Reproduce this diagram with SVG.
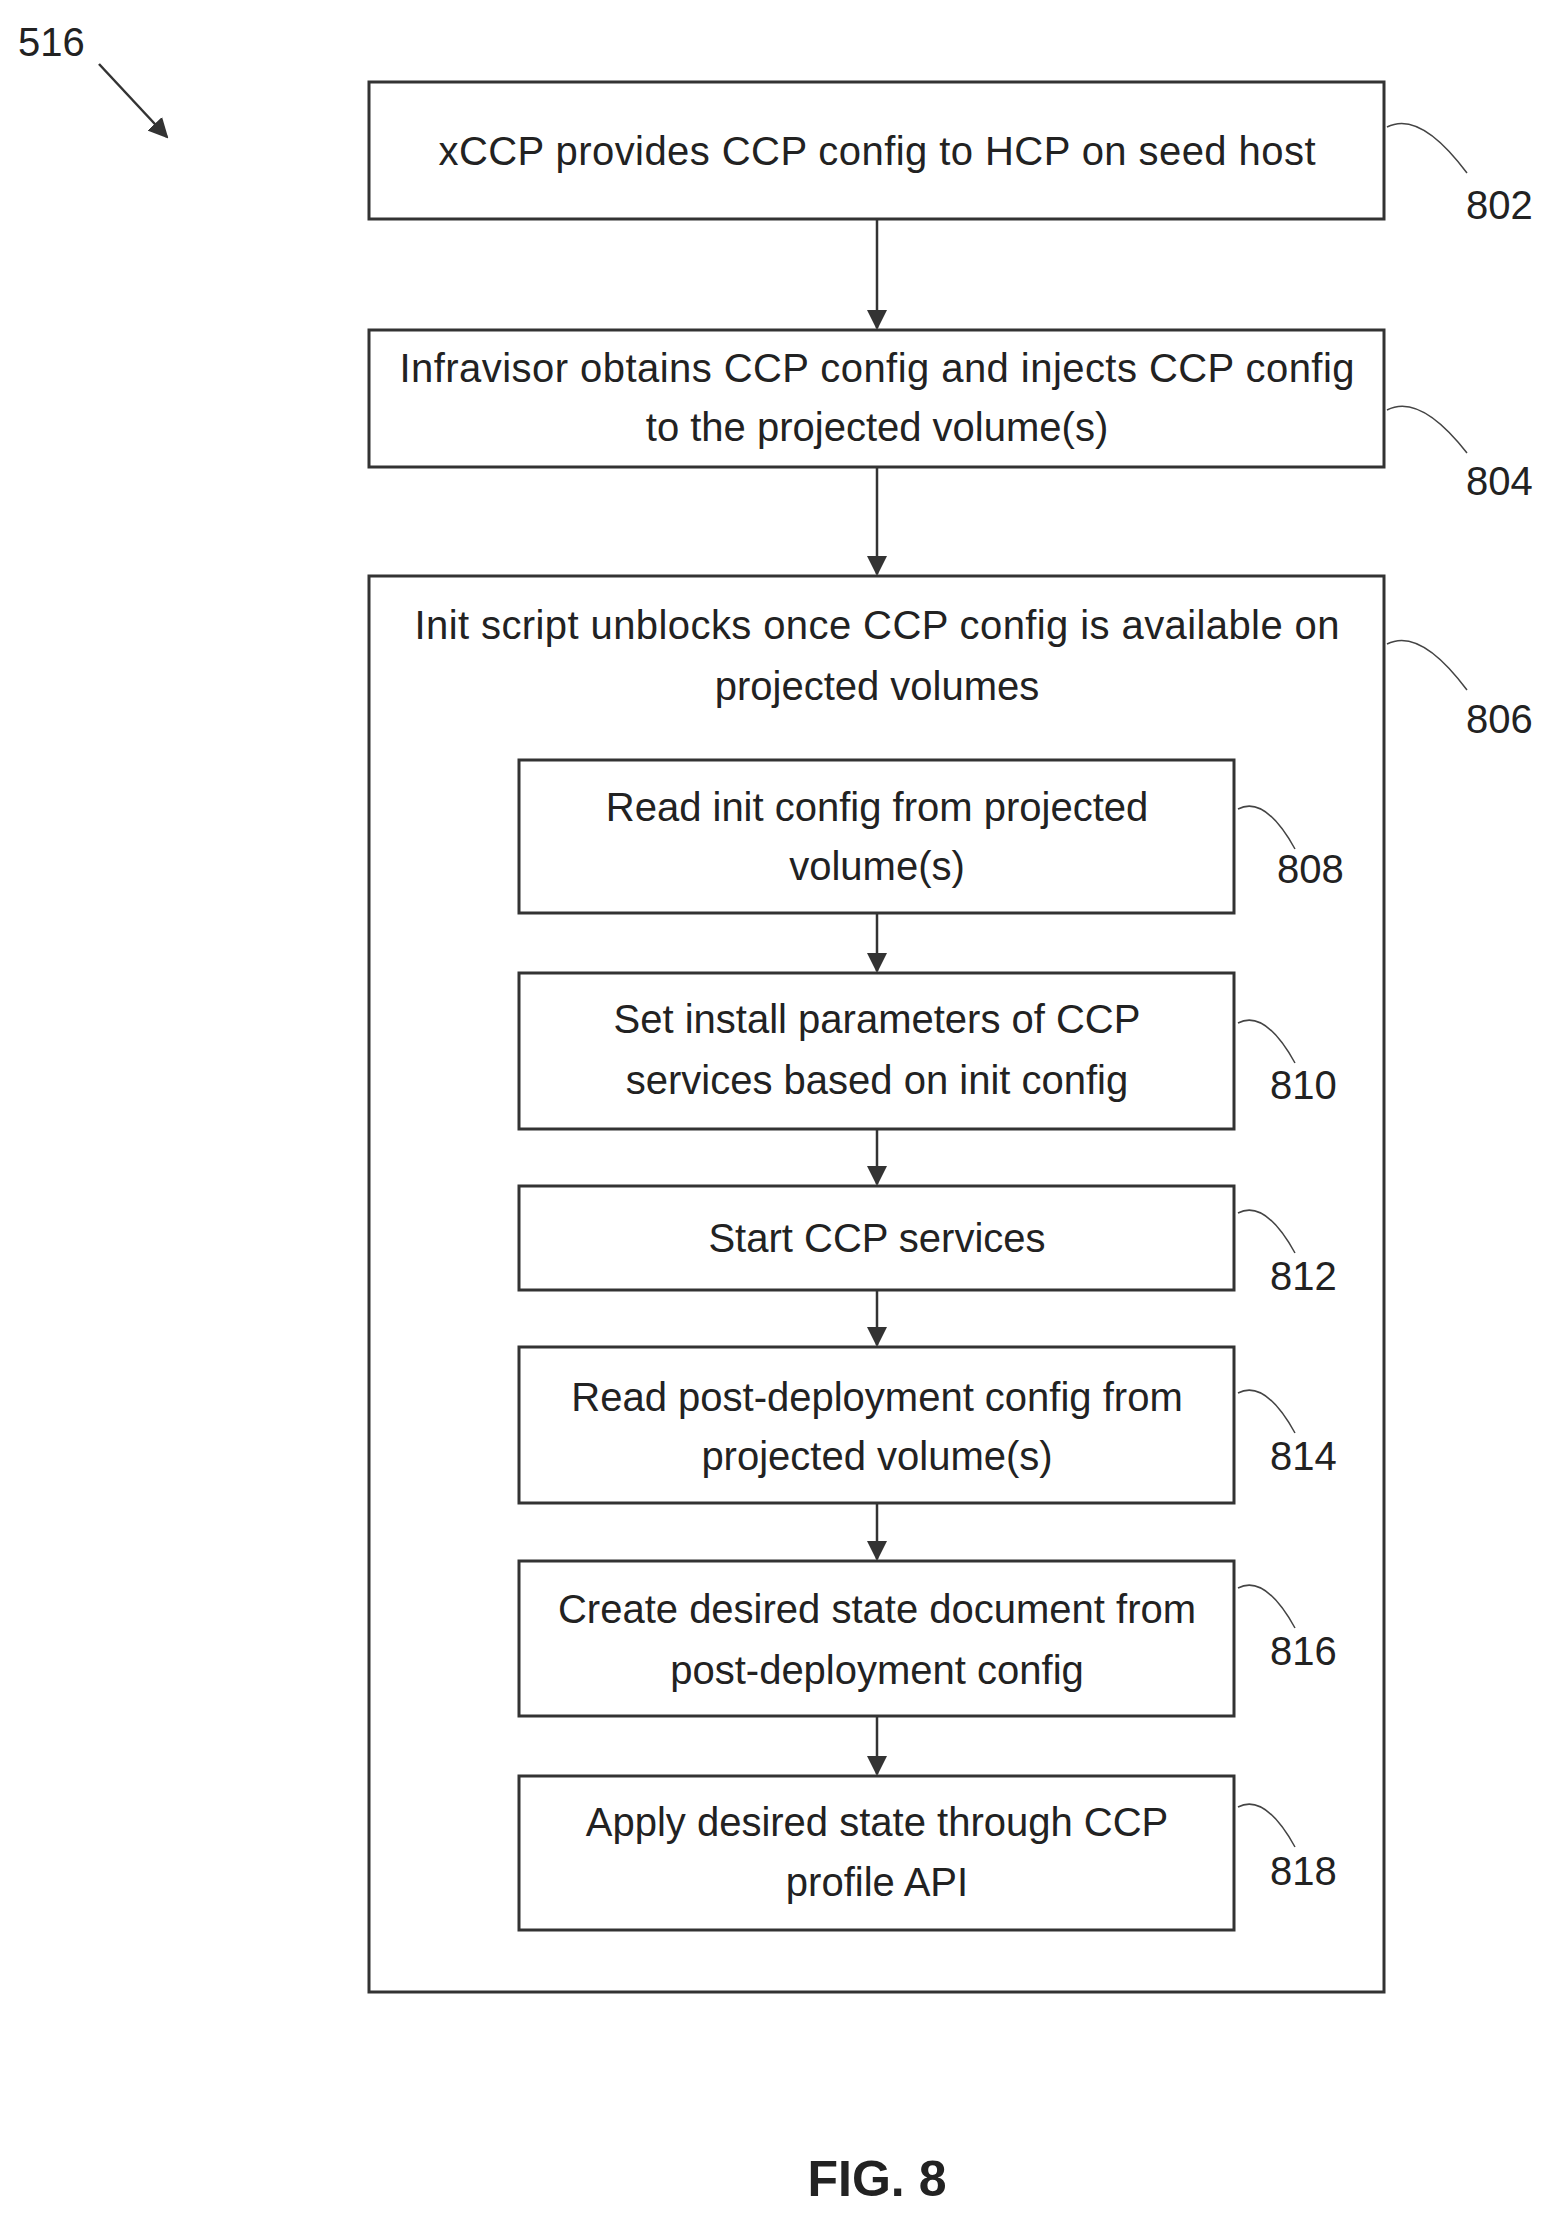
<svg xmlns="http://www.w3.org/2000/svg" width="1556" height="2225" viewBox="0 0 1556 2225">
<style>
text{font-family:"Liberation Sans",Arial,sans-serif;fill:#222;}
.t{font-size:40px;text-anchor:middle;dominant-baseline:central;}
.n{font-size:40px;dominant-baseline:central;}
.b{fill:#fff;stroke:#333;stroke-width:3;}
.c{fill:none;stroke:#333;stroke-width:2.5;}
.l{fill:none;stroke:#444;stroke-width:1.5;}
</style>
<defs><marker id="a" viewBox="0 0 10 10" refX="9" refY="5" markerWidth="8" markerHeight="8" orient="auto"><path d="M0,0L10,5L0,10z" fill="#333"/></marker></defs>
<rect width="1556" height="2225" fill="#fff"/>
<text class="n" x="18" y="42">516</text>
<g id="n802"><rect class="b" x="369" y="82" width="1015" height="137"/><text class="t" x="877" y="151" textLength="877">xCCP provides CCP config to HCP on seed host</text><text class="n" x="1466" y="205">802</text></g>
<g id="n804"><rect class="b" x="369" y="330" width="1015" height="137"/><text class="t" x="877" y="368" textLength="955">Infravisor obtains CCP config and injects CCP config</text><text class="t" x="877" y="427">to the projected volume(s)</text><text class="n" x="1466" y="481">804</text></g>
<g id="n806"><rect class="b" x="369" y="576" width="1015" height="1416"/><text class="t" x="877" y="625" textLength="925">Init script unblocks once CCP config is available on</text><text class="t" x="877" y="686">projected volumes</text><text class="n" x="1466" y="719">806</text></g>
<g id="n808"><rect class="b" x="519" y="760" width="715" height="153"/><text class="t" x="877" y="807">Read init config from projected</text><text class="t" x="877" y="866">volume(s)</text><text class="n" x="1277" y="869">808</text></g>
<g id="n810"><rect class="b" x="519" y="973" width="715" height="156"/><text class="t" x="877" y="1019">Set install parameters of CCP</text><text class="t" x="877" y="1080">services based on init config</text><text class="n" x="1270" y="1085">810</text></g>
<g id="n812"><rect class="b" x="519" y="1186" width="715" height="104"/><text class="t" x="877" y="1238">Start CCP services</text><text class="n" x="1270" y="1276">812</text></g>
<g id="n814"><rect class="b" x="519" y="1347" width="715" height="156"/><text class="t" x="877" y="1397">Read post-deployment config from</text><text class="t" x="877" y="1456">projected volume(s)</text><text class="n" x="1270" y="1456">814</text></g>
<g id="n816"><rect class="b" x="519" y="1561" width="715" height="155"/><text class="t" x="877" y="1609">Create desired state document from</text><text class="t" x="877" y="1670">post-deployment config</text><text class="n" x="1270" y="1651">816</text></g>
<g id="n818"><rect class="b" x="519" y="1776" width="715" height="154"/><text class="t" x="877" y="1822">Apply desired state through CCP</text><text class="t" x="877" y="1882">profile API</text><text class="n" x="1270" y="1871">818</text></g>
<g id="connectors">
<line class="c" x1="99" y1="64" x2="167" y2="137" marker-end="url(#a)"/>
<line class="c" x1="877" y1="219" x2="877" y2="328" marker-end="url(#a)"/>
<line class="c" x1="877" y1="467" x2="877" y2="574" marker-end="url(#a)"/>
<line class="c" x1="877" y1="913" x2="877" y2="971" marker-end="url(#a)"/>
<line class="c" x1="877" y1="1129" x2="877" y2="1184" marker-end="url(#a)"/>
<line class="c" x1="877" y1="1290" x2="877" y2="1345" marker-end="url(#a)"/>
<line class="c" x1="877" y1="1503" x2="877" y2="1559" marker-end="url(#a)"/>
<line class="c" x1="877" y1="1716" x2="877" y2="1774" marker-end="url(#a)"/>
<path class="l" d="M1387,127 Q1420,110 1467,173"/>
<path class="l" d="M1387,410 Q1420,393 1467,453"/>
<path class="l" d="M1387,644 Q1420,627 1467,690"/>
<path class="l" d="M1238,809 Q1265,795 1295,849"/>
<path class="l" d="M1238,1023 Q1265,1009 1295,1063"/>
<path class="l" d="M1238,1213 Q1265,1199 1295,1253"/>
<path class="l" d="M1238,1393 Q1265,1379 1295,1433"/>
<path class="l" d="M1238,1588 Q1265,1574 1295,1628"/>
<path class="l" d="M1238,1807 Q1265,1793 1295,1847"/>
</g>
<text x="877" y="2179" style="font-size:50px;font-weight:bold;text-anchor:middle;dominant-baseline:central">FIG. 8</text>
</svg>
